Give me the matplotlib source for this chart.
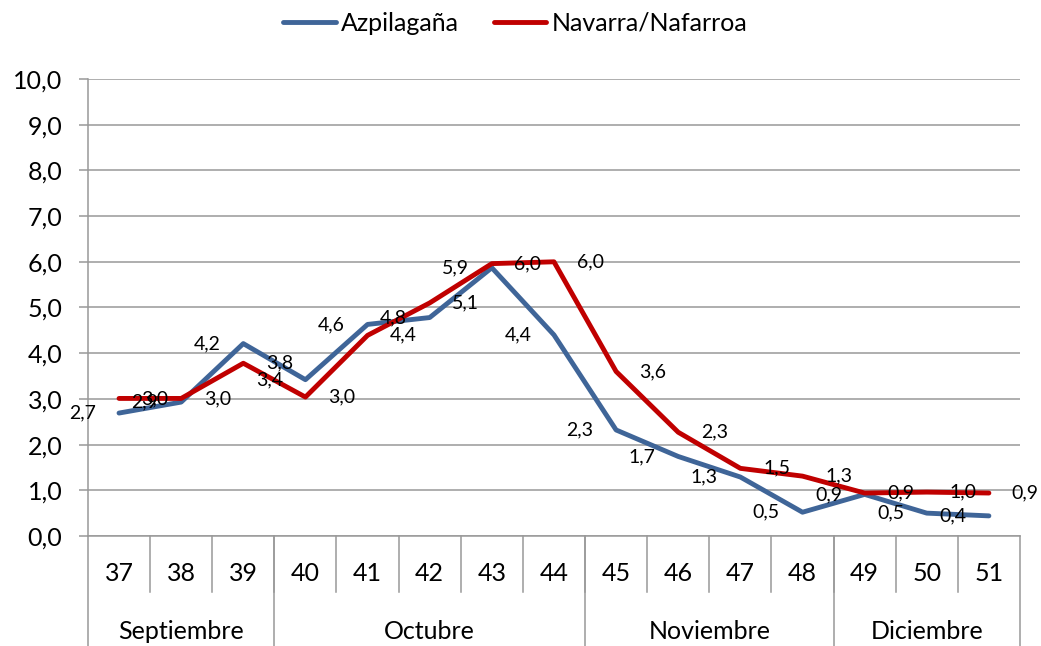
import matplotlib
matplotlib.use("Agg")
import matplotlib.pyplot as plt
from matplotlib.lines import Line2D

plt.rcParams['font.family'] = ['Lato', 'DejaVu Sans']

weeks = [37, 38, 39, 40, 41, 42, 43, 44, 45, 46, 47, 48, 49, 50, 51]
months = ["Septiembre", "Octubre", "Noviembre", "Diciembre"]
month_weeks = [3, 5, 4, 3]  # number of weeks in each month group

azpilagana = [2.69, 2.93, 4.21, 3.42, 4.63, 4.78, 5.87, 4.4, 2.32, 1.74, 1.29, 0.52, 0.91, 0.5, 0.44]
navarra = [3.01, 3.01, 3.78, 3.04, 4.39, 5.1, 5.96, 6.0, 3.6, 2.27, 1.48, 1.31, 0.94, 0.96, 0.94]

BLUE = "#3f6598"
RED = "#c00000"
GRID = "#999999"


def fmt(v):
    return f"{v:.1f}".replace(".", ",")


fig = plt.figure(figsize=(10.41, 6.46), dpi=100)
ax = fig.add_axes([0.0845, 0.1703, 0.8953, 0.7074])

x = list(range(len(weeks)))
ax.plot(x, azpilagana, color=BLUE, lw=3.5, solid_joinstyle="round",
        solid_capstyle="round", label="Azpilagaña", zorder=3)
ax.plot(x, navarra, color=RED, lw=3.5, solid_joinstyle="round",
        solid_capstyle="round", label="Navarra/Nafarroa", zorder=3)

# data labels, offset sideways like the original
for xi, v in zip(x, azpilagana):
    ax.annotate(fmt(v), (xi, v), xytext=(-26, 0), textcoords="offset points",
                ha="center", va="center", fontsize=14, zorder=4)
for xi, v in zip(x, navarra):
    ax.annotate(fmt(v), (xi, v), xytext=(26, 0), textcoords="offset points",
                ha="center", va="center", fontsize=14, zorder=4)

ax.set_xlim(-0.5, len(weeks) - 0.5)
ax.set_ylim(0, 10)
ax.set_yticks(range(0, 11))
ax.set_yticklabels([fmt(float(t)) for t in range(0, 11)], fontsize=18)
ax.yaxis.grid(True, color=GRID, lw=1.1)
ax.set_axisbelow(True)
ax.tick_params(axis="y", length=6.5, width=1.1, color=GRID, pad=12)
ax.set_xticks([])

for s in ["top", "right"]:
    ax.spines[s].set_visible(False)
for s in ["left", "bottom"]:
    ax.spines[s].set_color(GRID)
    ax.spines[s].set_linewidth(1.1)

# category table under the axis
tr = ax.get_xaxis_transform()
for xi, w in zip(x, weeks):
    ax.text(xi, -0.081, str(w), transform=tr, ha="center", va="center", fontsize=18)
    if xi < len(weeks) - 1:
        ax.add_line(Line2D([xi + 0.5, xi + 0.5], [0, -0.1225], transform=tr,
                           color=GRID, lw=1.1, clip_on=False))

start = -0.5
for m, n in zip(months, month_weeks):
    ax.add_line(Line2D([start, start], [0, -0.25], transform=tr,
                       color=GRID, lw=1.1, clip_on=False))
    ax.text(start + n / 2, -0.21, m, transform=tr, ha="center", va="center", fontsize=18)
    start += n
ax.add_line(Line2D([start, start], [0, -0.25], transform=tr,
                   color=GRID, lw=1.1, clip_on=False))

fig.legend(loc="center", bbox_to_anchor=(0.495, 0.964), ncol=2, frameon=False,
           fontsize=18, handlelength=2.1, handletextpad=0.2, columnspacing=1.4)

fig.savefig("out.png", dpi=100)
